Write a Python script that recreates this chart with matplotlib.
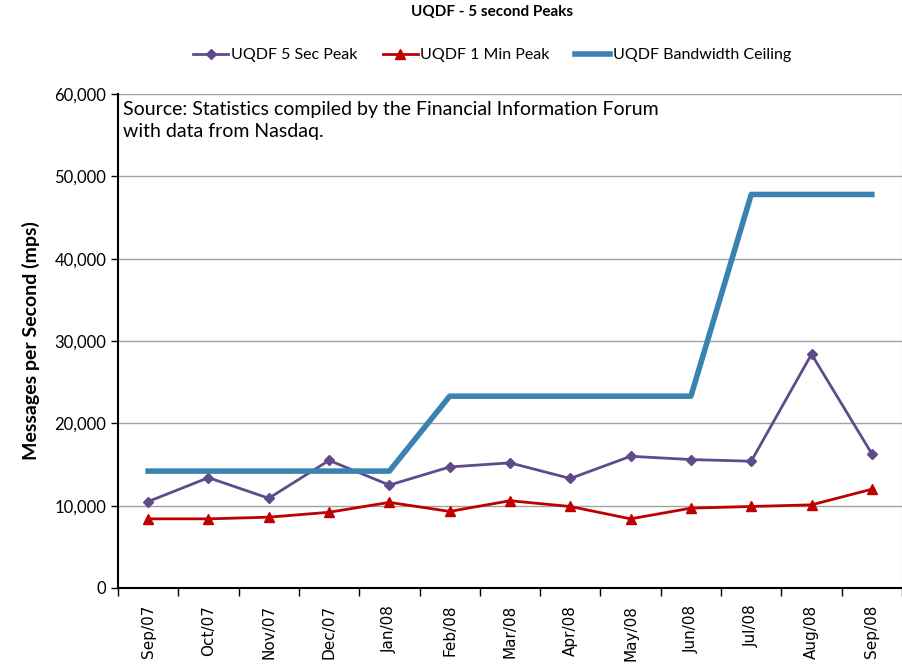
import matplotlib
matplotlib.use('Agg')
import matplotlib.pyplot as plt
from matplotlib.ticker import FuncFormatter

months = ['Sep/07', 'Oct/07', 'Nov/07', 'Dec/07', 'Jan/08', 'Feb/08', 'Mar/08',
          'Apr/08', 'May/08', 'Jun/08', 'Jul/08', 'Aug/08', 'Sep/08']
peak_5sec = [10500, 13400, 10900, 15500, 12500, 14700, 15200,
             13300, 16000, 15600, 15400, 28400, 16300]
peak_1min = [8400, 8400, 8600, 9200, 10400, 9300, 10600,
             9900, 8400, 9700, 9900, 10100, 12000]
bw_ceiling = [14200, 14200, 14200, 14200, 14200, 23300, 23300,
              23300, 23300, 23300, 47800, 47800, 47800]

plt.rcParams['font.family'] = ['Lato', 'DejaVu Sans']

fig = plt.figure(figsize=(9.03, 6.71), dpi=100)
ax = fig.add_axes([118/903, 83/671, 784/903, 494/671])

x = list(range(len(months)))
ax.plot(x, peak_5sec, color='#5f4b8b', lw=2, marker='D', ms=5.5,
        label='UQDF 5 Sec Peak')
ax.plot(x, peak_1min, color='#c00000', lw=2, marker='^', ms=7,
        label='UQDF 1 Min Peak')
ax.plot(x, bw_ceiling, color='#3a83b0', lw=4, label='UQDF Bandwidth Ceiling')

ax.set_xlim(-0.5, len(months) - 0.5)
ax.set_ylim(0, 60000)
ax.set_yticks(range(0, 60001, 10000))
ax.yaxis.set_major_formatter(FuncFormatter(lambda v, p: f'{int(v):,}'))
ax.yaxis.grid(True, color='#a0a0a0', lw=1)
ax.set_axisbelow(True)

# ticks between categories, labels on the categories
ax.set_xticks([i - 0.5 for i in range(len(months) + 1)], minor=False)
ax.set_xticklabels([])
ax.set_xticks(x, minor=True)
ax.set_xticklabels(months, minor=True, rotation=90, family='DejaVu Sans', fontsize=11)
ax.tick_params(axis='x', which='minor', length=0, pad=12)
ax.tick_params(axis='x', which='major', length=6, direction='out', width=1)
ax.tick_params(axis='y', labelsize=12, length=5, width=1, direction='out')

for s in ['left', 'bottom']:
    ax.spines[s].set_linewidth(1.5)
ax.spines['top'].set_visible(False)
ax.spines['right'].set_color('#c0c0c0')

ax.set_ylabel('Messages per Second (mps)', fontsize=14, fontweight='bold', labelpad=10)
ax.text(0.006, 0.985, 'Source: Statistics compiled by the Financial Information Forum\nwith data from Nasdaq.',
        transform=ax.transAxes, va='top', ha='left', fontsize=14, linespacing=1.35)

fig.text(0.545, 0.993, 'UQDF - 5 second Peaks', ha='center', va='top', fontsize=11, fontweight='bold')
fig.legend(loc='center', bbox_to_anchor=(0.545, 0.918), ncol=3, frameon=False,
           fontsize=11.5, handlelength=2.2, columnspacing=1.6, handletextpad=0.15)

fig.savefig('out.png', dpi=100)
